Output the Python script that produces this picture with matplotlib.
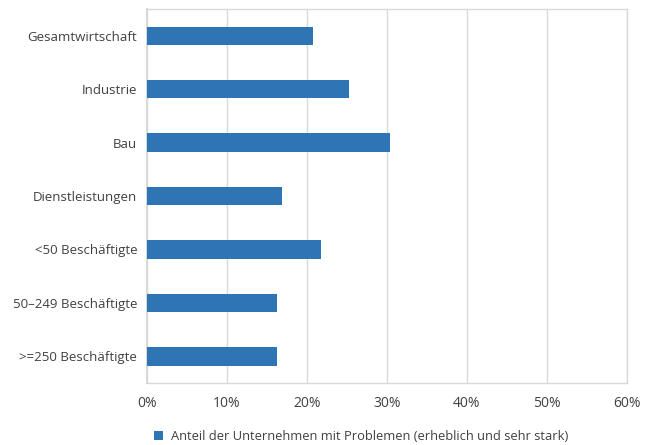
import matplotlib
matplotlib.use("Agg")
import matplotlib.pyplot as plt
from matplotlib.ticker import FuncFormatter

plt.rcParams['font.family'] = ['Open Sans', 'DejaVu Sans']

categories = ['Gesamtwirtschaft', 'Industrie', 'Bau', 'Dienstleistungen',
              '<50 Beschäftigte', '50–249 Beschäftigte', '>=250 Beschäftigte']
values = [20.8, 25.2, 30.4, 16.9, 21.8, 16.3, 16.3]
series_name = 'Anteil der Unternehmen mit Problemen (erheblich und sehr stark)'

bar_color = '#2E75B6'
grid_color = '#D9D9D9'
text_color = '#404040'

fig = plt.figure(figsize=(6.53, 4.45), dpi=100)
ax = fig.add_axes([0.225, 0.139, 0.735, 0.841])

ypos = list(range(len(categories)))
ax.barh(ypos, values, height=0.34, color=bar_color, label=series_name, zorder=3)

ax.set_xlim(0, 60)
ax.set_ylim(len(categories) - 0.5, -0.5)
ax.set_xticks(range(0, 61, 10))
ax.xaxis.set_major_formatter(FuncFormatter(lambda v, p: '%d%%' % v))
ax.set_yticks(ypos)
ax.set_yticklabels(categories)
ax.grid(axis='x', color=grid_color, linewidth=1, zorder=0)
ax.tick_params(length=0, labelsize=9.5, colors=text_color, pad=7)
ax.tick_params(axis='x', pad=9, labelsize=10)
for s in ax.spines.values():
    s.set_color(grid_color)
    s.set_linewidth(1)
ax.spines['left'].set_linewidth(1.5)

fig.legend(loc='lower center', bbox_to_anchor=(0.553, -0.022), frameon=False,
           handlelength=0.7, handleheight=0.7, handletextpad=0.6,
           fontsize=9.3, labelcolor=text_color)

fig.savefig('out.png', dpi=100)
